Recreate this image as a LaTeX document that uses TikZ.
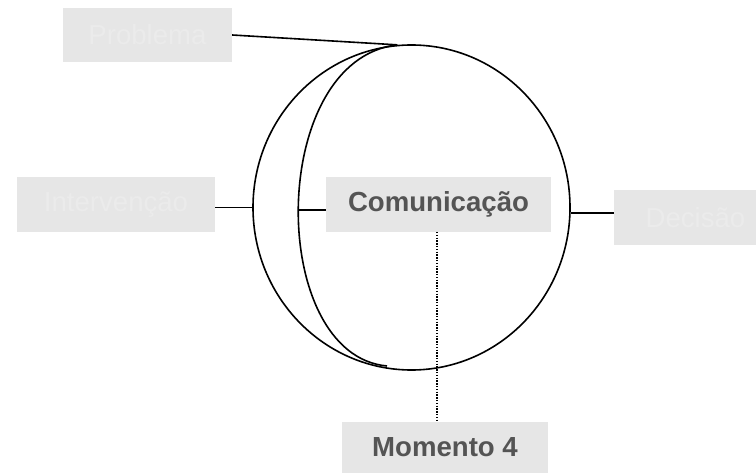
\documentclass[tikz,border=0pt]{standalone}
\usepackage{fontspec}
\setmainfont{Liberation Sans}
\usetikzlibrary{shapes.geometric}
\definecolor{boxgray}{HTML}{E6E6E6}
\definecolor{ghost}{HTML}{EBEBEB}
\definecolor{inkgray}{HTML}{545454}
\newcommand{\bigsize}[1]{\fontsize{27.7}{30}\selectfont #1}
\tikzset{
  stage/.style={fill=boxgray, inner sep=0pt, text=ghost, font=\bigsize{}},
  keystage/.style={stage, text=inkgray, font=\bigsize{\bfseries}},
  wire/.style={line width=1.6bp, black}
}

\begin{document}
\begin{tikzpicture}[x=1bp,y=-1bp]
\useasboundingbox (0,0) rectangle (756,474);
\clip (0,0) rectangle (756,474);

% BALL
\node (ball) [draw, wire, ellipse, minimum width=317bp, minimum height=325bp, inner sep=0pt] at (411.5,207.5) {};
\draw[wire] (ball.95) .. controls (267,60) and (267,355) .. (387,366);
\coordinate (crescent) at (298,210);

% BOXES
\node (problem) [stage, minimum width=169bp, minimum height=54bp] at (147.5,35) {Problema};
\node (interv) [stage, minimum width=198bp, minimum height=55bp] at (116,204.5) {Intervenção};
\node (comm) [keystage, minimum width=225bp, minimum height=55bp] at (438.5,204.5) {Comunicação};
\node (decis) [stage, minimum width=163bp, minimum height=55bp] at (695.5,217.5) {Decisão};
\node (moment) [keystage, minimum width=206bp, minimum height=51bp] at (445,447.5) {Momento 4};

% LINKS
\draw[wire] (problem.east) -- (ball.95);
\draw[wire] (ball.west) -- (ball.west -| interv.east);
\draw[wire] (crescent) -- (crescent -| comm.west);
\draw[wire] (ball.-2) -- (ball.-2 -| decis.west);
\draw[line width=1.4bp, dash pattern=on 1.4bp off 1.4bp] (437,232) -- (437,422);
\end{tikzpicture}
\end{document}
